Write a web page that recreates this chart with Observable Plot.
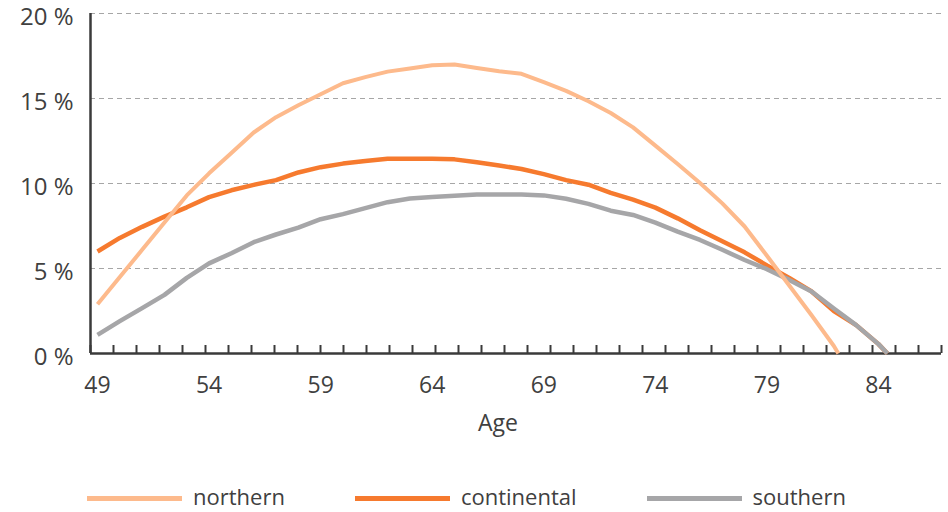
<!DOCTYPE html>
<html>
<head>
<meta charset="utf-8">
<script src="https://cdn.jsdelivr.net/npm/d3@7"></script>
<script src="https://cdn.jsdelivr.net/npm/@observablehq/plot@0.6"></script>
<style>
  html, body { margin: 0; padding: 0; background: #fff; }
  #wrap { position: relative; width: 948px; height: 512px; font-family: "Open Sans", sans-serif; }
  #legend { position: absolute; left: 87px; top: 484px; display: flex; align-items: center; color: #404040; font-size: 22px; line-height: 24px; }
  .item { display: flex; align-items: center; margin-right: 70px; }
  .sw { width: 95px; height: 5px; margin-right: 11px; margin-top: 4px; }
</style>
</head>
<body>
<div id="wrap">
  <div id="chart"></div>
  <div id="legend"></div>
</div>
<script>
const ages = [49, 50, 51, 52, 53, 54, 55, 56, 57, 58, 59, 60, 61, 62, 63, 64, 65, 66,
              67, 68, 69, 70, 71, 72, 73, 74, 75, 76, 77, 78, 79, 80, 81, 82, 83, 84];
const northern = [2.9, 4.5, 6.1, 7.7, 9.3, 10.6, 11.8, 13.0, 13.9, 14.6, 15.25, 15.9, 16.26, 16.58, 16.77, 16.96, 17.0, 16.8,
                  16.6, 16.45, 15.96, 15.45, 14.84, 14.15, 13.3, 12.23, 11.15, 10.03, 8.83, 7.47, 5.75, 4.0, 2.25, 0.44, null, null];
const continental = [6.0, 6.8, 7.45, 8.05, 8.6, 9.2, 9.6, 9.92, 10.2, 10.65, 10.96, 11.17, 11.32, 11.45, 11.45, 11.45, 11.42, 11.25,
                     11.06, 10.85, 10.55, 10.2, 9.93, 9.45, 9.05, 8.58, 7.95, 7.25, 6.6, 5.95, 5.18, 4.45, 3.65, 2.5, 1.67, 0.55];
const southern = [1.1, 1.9, 2.67, 3.45, 4.45, 5.3, 5.9, 6.55, 7.0, 7.4, 7.9, 8.2, 8.55, 8.9, 9.12, 9.2, 9.28, 9.35,
                  9.35, 9.35, 9.3, 9.1, 8.8, 8.4, 8.15, 7.7, 7.17, 6.68, 6.1, 5.5, 4.96, 4.33, 3.65, 2.65, 1.67, 0.55];
// age at which each series reaches 0 %
const seriesNames = ["northern", "continental", "southern"];
const zeroAges = [82.2, 84.4, 84.4];
const seriesColors = ["#FDBA8C", "#F67A2E", "#A6A6A8"];
const xTickLabels = [49, 54, 59, 64, 69, 74, 79, 84];
const yTicks = [0, 5, 10, 15, 20];
const gridValues = [5, 10, 15, 20];

const xMin = 48.686, xMax = 86.823;
const minorTicks = d3.range(38).map(i => xMin + i * (xMax - xMin) / 37);

const valuesBySeries = [northern, continental, southern];
const rows = [];
seriesNames.forEach((s, k) => {
  ages.forEach((a, i) => {
    const v = valuesBySeries[k][i];
    if (v != null) rows.push({series: s, age: a, value: v});
  });
  rows.push({series: s, age: zeroAges[k], value: 0});
});

const lineFor = (s, w) => Plot.line(rows.filter(d => d.series === s), {
  x: "age", y: "value", stroke: seriesColors[seriesNames.indexOf(s)], strokeWidth: w,
  strokeLinecap: "butt", strokeLinejoin: "round"
});

const chart = Plot.plot({
  width: 948,
  height: 470,
  marginTop: 13,
  marginBottom: 117,
  marginLeft: 90,
  marginRight: 7,
  x: {domain: [xMin, xMax]},
  y: {domain: [0, 20]},
  style: {fontFamily: "Open Sans, sans-serif", fontSize: "23px", color: "#404040", background: "white"},
  marks: [
    Plot.ruleY(gridValues, {stroke: "#a6a6a6", strokeWidth: 1.2, strokeDasharray: "5,4"}),
    Plot.axisY({ticks: yTicks, tickFormat: d => `${d} %`, tickSize: 0, tickPadding: 17, dy: 4, label: null, fontSize: 24}),
    Plot.axisX({ticks: xTickLabels, tickSize: 0, tickPadding: 23, label: null, fontSize: 23}),
    Plot.ruleX(minorTicks, {y1: 0, y2: 0.47, stroke: "#3a3a3a", strokeWidth: 2}),
    Plot.ruleX([xMin], {stroke: "#3a3a3a", strokeWidth: 2.5}),
    Plot.ruleY([0], {stroke: "#3a3a3a", strokeWidth: 2.5}),
    lineFor("continental", 4.5),
    lineFor("southern", 4.5),
    lineFor("northern", 4),
    Plot.text(["Age"], {text: d => d, frameAnchor: "bottom", dx: -18, dy: 61, lineAnchor: "top", fontSize: 23, fill: "#404040"})
  ]
});
document.getElementById("chart").appendChild(chart);

const legend = document.getElementById("legend");
seriesNames.forEach((s, k) => {
  const item = document.createElement("div");
  item.className = "item";
  const sw = document.createElement("span");
  sw.className = "sw";
  sw.style.background = seriesColors[k];
  const lab = document.createElement("span");
  lab.textContent = s;
  item.appendChild(sw);
  item.appendChild(lab);
  legend.appendChild(item);
});
</script>
</body>
</html>
